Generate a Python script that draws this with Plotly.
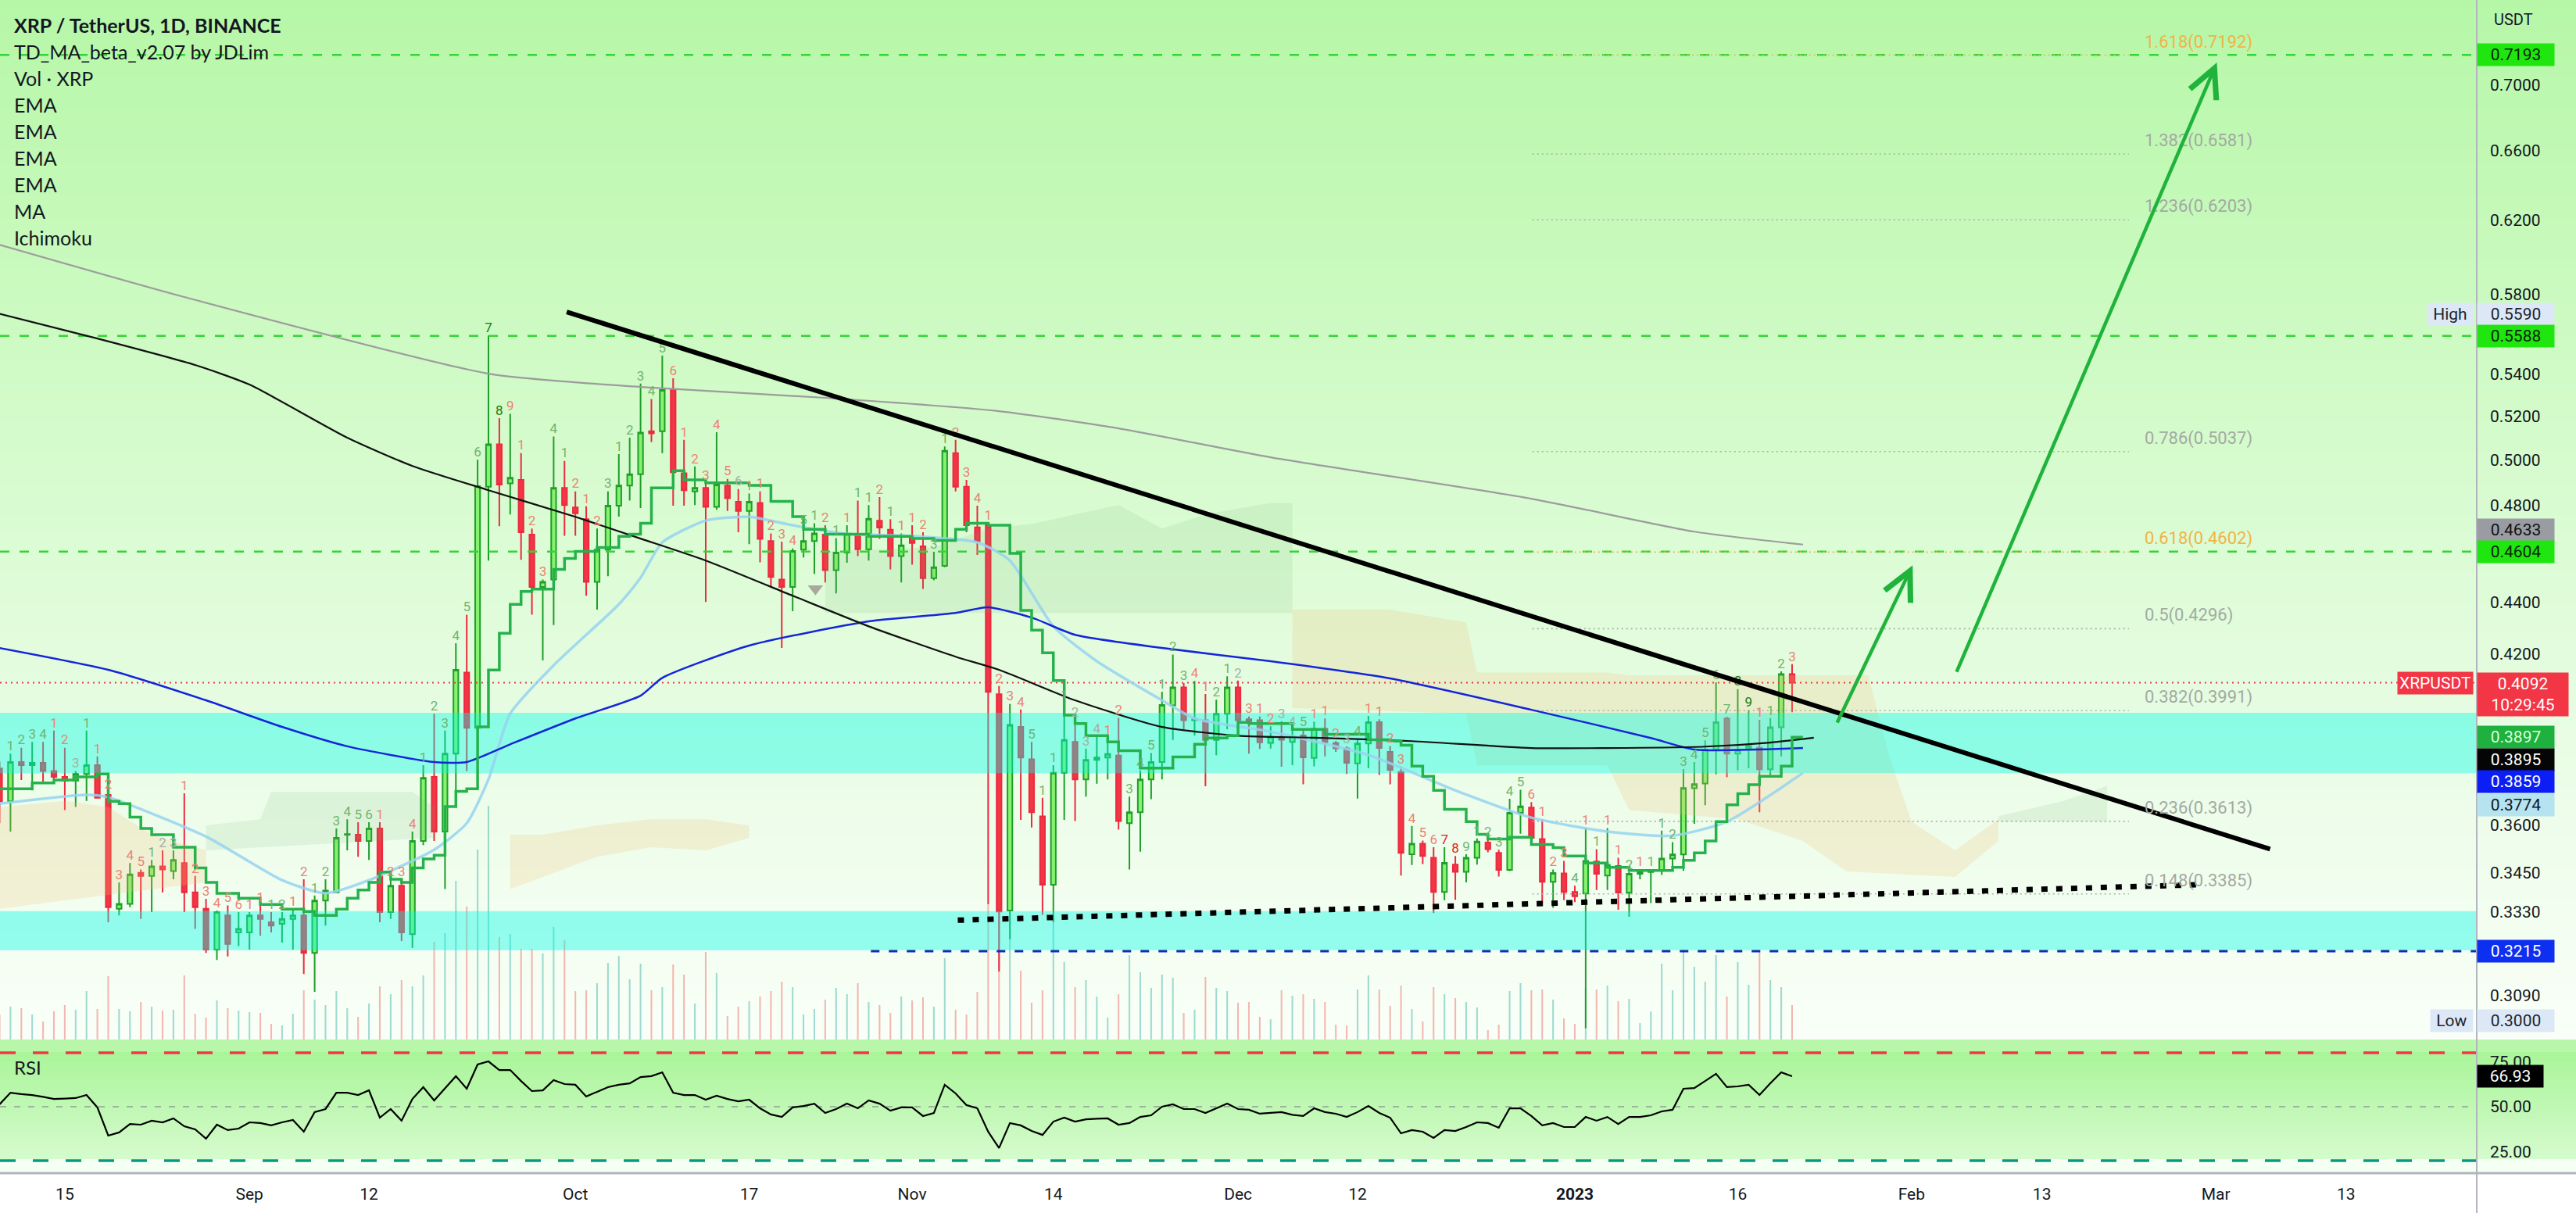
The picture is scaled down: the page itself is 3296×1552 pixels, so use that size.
import math
import pandas as pd
import plotly.graph_objects as go

# ---------------------------------------------------------------- data
BASE = pd.Timestamp("2022-08-09")

opens = [.3789,.3679,.3811,.3800,.3808,.3780,.3760,.3748,.3770,.3800,
         .3700,.3340,.3355,.3450,.3440,.3470,.3455,.3480,.3390,.3340,
         .3220,.3320,.3270,.3270,.3320,.3300,.3295,.3310,.3320,.3210,
         .3365,.3390,.3570,.3570,.3550,.3590,.3330,.3410,.3265,.3550,
         .3760,.3580,.3840,.4130,.3930,.4880,.5070,.4895,.4910,.4675,
         .4460,.4490,.4875,.4790,.4740,.4480,.4612,.4798,.4885,.4935,
         .5130,.5130,.5323,.4940,.4860,.4875,.4793,.4885,.4815,.4775,
         .4810,.4648,.4490,.4460,.4612,.4648,.4675,.4528,.4600,.4677,
         .4614,.4733,.4695,.4585,.4660,.4626,.4495,.4545,.5030,.4880,
         .4705,.4714,.4050,.3335,.3933,.3820,.3629,.3413,.3774,.3880,
         .3752,.3818,.3826,.3833,.3607,.3643,.3752,.3811,.4010,.4075,
         .3957,.3957,.3887,.3980,.4075,.3960,.3957,.3877,.3898,.3880,
         .3903,.3825,.3926,.3876,.3858,.3806,.3875,.3950,.3846,.3777,
         .3508,.3541,.3497,.3391,.3475,.3453,.3497,.3545,.3512,.3459,
         .3641,.3658,.3556,.3422,.3448,.3391,.3386,.3485,.3441,.3471,
         .3389,.3447,.3452,.3458,.3494,.3507,.3722,.3738,.3853,.3963,
         .3840,.3857,.3860,.3786,.3932,.4124]
highs = [.3812,.3840,.3860,.3880,.3880,.3920,.3860,.3780,.3920,.3830,
         .3710,.3420,.3480,.3460,.3490,.3520,.3520,.3705,.3440,.3370,
         .3335,.3350,.3330,.3330,.3350,.3330,.3330,.3340,.3430,.3380,
         .3430,.3590,.3620,.3610,.3610,.3610,.3430,.3430,.3580,.3800,
         .3980,.3920,.4240,.4350,.5000,.5590,.5190,.5210,.5030,.4700,
         .4490,.5105,.4995,.4860,.4795,.4700,.4860,.5025,.5100,.5354,
         .5280,.5490,.5380,.5090,.4970,.4895,.5125,.4915,.4870,.4850,
         .4860,.4680,.4645,.4617,.4704,.4723,.4714,.4660,.4714,.4820,
         .4800,.4835,.4740,.4680,.4714,.4685,.4603,.5060,.5090,.4910,
         .4798,.4723,.4080,.4015,.3995,.3880,.3690,.3800,.4020,.3957,
         .3857,.3900,.3894,.3965,.3694,.3782,.3842,.4059,.4197,.4091,
         .4099,.4051,.4030,.4116,.4100,.3970,.3970,.3935,.3953,.3924,
         .3923,.3952,.3963,.3884,.3865,.3890,.3972,.3960,.3866,.3795,
         .3598,.3551,.3530,.3530,.3502,.3508,.3558,.3555,.3522,.3687,
         .3717,.3676,.3619,.3460,.3487,.3410,.3591,.3524,.3591,.3497,
         .3452,.3460,.3460,.3583,.3546,.3787,.3811,.3886,.4094,.3969,
         .4069,.3993,.3958,.3964,.4134,.4161]
lows = [.3607,.3580,.3750,.3715,.3740,.3740,.3650,.3660,.3680,.3690,
        .3300,.3320,.3345,.3310,.3330,.3390,.3430,.3330,.3280,.3210,
        .3190,.3200,.3230,.3220,.3260,.3270,.3240,.3220,.3150,.3100,
        .3290,.3390,.3520,.3500,.3490,.3300,.3310,.3245,.3225,.3537,
        .3550,.3400,.3710,.3780,.3880,.4567,.4710,.4760,.4570,.4350,
        .4175,.4310,.4670,.4670,.4425,.4370,.4503,.4751,.4820,.4788,
        .5080,.5030,.4798,.4798,.4800,.4400,.4780,.4775,.4685,.4635,
        .4560,.4460,.4222,.4364,.4580,.4513,.4478,.4434,.4558,.4585,
        .4567,.4657,.4531,.4478,.4550,.4452,.4487,.4540,.4860,.4685,
        .4590,.3353,.3157,.3250,.3618,.3593,.3322,.3300,.3618,.3614,
        .3694,.3737,.3752,.3586,.3460,.3516,.3686,.3752,.3887,.3925,
        .3902,.3729,.3834,.3925,.3902,.3840,.3856,.3857,.3795,.3800,
        .3735,.3796,.3830,.3846,.3770,.3688,.3790,.3767,.3735,.3441,
        .3474,.3477,.3327,.3366,.3367,.3420,.3475,.3514,.3438,.3455,
        .3573,.3545,.3358,.3343,.3366,.3360,.3000,.3397,.3397,.3337,
        .3316,.3430,.3357,.3443,.3456,.3456,.3605,.3666,.3769,.3759,
        .3783,.3790,.3643,.3766,.3830,.3985]
closes = [.3679,.3811,.3800,.3808,.3780,.3760,.3748,.3770,.3800,.3690,
          .3345,.3355,.3445,.3440,.3470,.3460,.3490,.3390,.3345,.3220,
          .3330,.3236,.3280,.3320,.3310,.3290,.3310,.3320,.3210,.3365,
          .3395,.3560,.3572,.3550,.3590,.3330,.3410,.3270,.3550,.3757,
          .3580,.3840,.4140,.3930,.4883,.5070,.4890,.4920,.4685,.4460,
          .4480,.4875,.4800,.4765,.4480,.4612,.4798,.4885,.4935,.5123,
          .5120,.5323,.4944,.4865,.4875,.4793,.4890,.4830,.4775,.4815,
          .4657,.4500,.4460,.4606,.4648,.4680,.4528,.4600,.4677,.4614,
          .4742,.4704,.4585,.4630,.4640,.4495,.4540,.5040,.4880,.4714,
          .4648,.4059,.3332,.3940,.3826,.3643,.3413,.3774,.3887,.3752,
          .3818,.3826,.3838,.3614,.3643,.3752,.3811,.4011,.4075,.3957,
          .3960,.3887,.3980,.4075,.3957,.3952,.3879,.3898,.3888,.3900,
          .3827,.3926,.3879,.3858,.3808,.3875,.3950,.3859,.3784,.3512,
          .3541,.3502,.3391,.3481,.3453,.3497,.3548,.3524,.3459,.3641,
          .3662,.3560,.3422,.3449,.3391,.3378,.3487,.3447,.3474,.3389,
          .3447,.3452,.3458,.3494,.3507,.3723,.3736,.3853,.3950,.3840,
          .3852,.3866,.3786,.3932,.4124,.4092]
volumes_m = [320,420,400,320,230,360,440,380,620,390,
             810,390,360,480,420,370,380,820,330,280,
             500,400,370,350,340,200,180,330,630,510,
             440,620,400,290,460,680,580,760,680,820,
             1250,1360,2030,1700,2430,2990,1310,1350,1160,1160,
             1100,1440,1270,620,630,720,980,1070,770,970,
             630,670,960,830,460,1120,850,300,420,490,
             550,620,740,670,320,390,510,660,580,720,
             480,440,340,550,500,540,420,1040,380,320,
             610,1720,1630,1650,880,470,630,1500,990,670,
             760,550,280,580,1080,860,660,830,790,340,
             380,800,660,620,470,480,290,260,630,560,
             580,520,480,190,180,640,820,640,430,690,
             390,230,670,580,530,480,410,120,190,620,
             720,630,640,510,270,200,660,640,690,490,
             520,210,360,970,630,1150,930,740,1080,550,
             990,700,1130,760,670,440]
rsi = [51.3,57.8,57.0,56.5,55.5,54.3,54.5,54.8,56.5,49.6,
       33.9,35.7,40.4,40.0,42.2,41.3,43.5,39.1,37.4,32.2,
       40.0,37.0,37.8,41.3,40.9,39.6,41.3,42.6,36.1,47.0,
       48.7,57.8,57.8,56.5,59.1,43.9,48.7,42.2,54.3,60.9,
       53.5,60.4,67.0,60.0,73.5,75.2,70.4,70.4,64.3,58.7,
       59.1,64.8,62.6,62.2,55.7,58.3,60.9,62.2,63.0,66.5,
       67.0,69.1,57.8,56.5,56.5,53.9,56.1,54.3,53.0,53.9,
       49.1,45.7,44.3,49.6,50.4,51.7,46.5,48.7,51.7,49.1,
       53.5,51.7,47.8,49.6,49.6,44.8,46.5,62.2,57.4,50.9,
       49.1,36.1,27.0,40.9,39.6,36.5,34.3,41.7,43.9,41.7,
       43.0,43.3,43.5,40.0,40.9,44.3,45.2,50.0,51.3,48.7,
       48.7,46.5,49.1,51.7,48.7,48.3,46.1,46.5,47.0,45.5,
       44.8,49.1,47.0,46.1,44.3,47.0,50.4,46.5,43.9,35.2,
       37.0,36.1,32.6,37.0,36.5,38.7,41.3,40.9,38.3,49.1,
       49.1,44.8,39.6,40.9,38.7,38.7,44.3,42.2,44.3,40.4,
       44.3,44.3,45.2,47.4,48.3,60.0,60.4,64.3,68.3,60.9,
       61.3,62.2,56.5,63.0,69.1,66.93]

# TD sequential counts printed above each candle, and their colour class
td_counts = ["1","1","2","3","4","1","2","3","1","1",
             "2","3","4","5","1","2","3","1","2","3",
             "4","5","6","1","1","1","2","1","2","1",
             "2","3","4","5","6","1","2","3","4","1",
             "2","3","4","5","6","7","8","9","1","2",
             "3","4","1","2","1","2","3","1","2","3",
             "4","5","6","1","2","3","4","5","6","1",
             "1","2","3","4","5","1","2","1","1","1",
             "1","2","1","1","1","2","3","1","2","3",
             "4","1","2","3","4","5","1","1","1","2",
             "3","4","1","2","3","4","5","1","2","3",
             "4","1","2","1","2","3","1","2","3","4",
             "5","1","1","2","3","4","1","1","2","3",
             "4","5","6","7","8","9","1","2","3","4",
             "5","6","1","2","3","4","1","1","1","1",
             "2","1","1","1","2","3","4","5","6","7",
             "8","9","1","1","2","3"]
td_kind = ("ggggg" "rrngr" "rrrrg" "nnrrr" "rrrrr" "ggrrg" "gggggr" "rrrggg" "gggGG" "rrrr"
           "ggrrr" "ggggg" "grrrr" "rrnrr" "rrrgg" "rgrgg" "rgrrr" "ggrrr" "rrrrg" "gggnn"
           "nrrgg" "ggggr" "rggnr" "rrnng" "rrrng" "rrrrr" "rrRRg" "ggggg" "rrrrg" "rgrrg"
           "rgggg" "ggggG" "Grggr")

# small bearish marker printed by the TD script
marker_day, marker_price = 75.1, 0.4453

# moving averages (day offset from BASE, price)
ma_days = [0,9,18,23,32,38,45,53,59,65,73,80,88,92,99,107,114,121,130,141,148,157,163,167]
ma_vals = [.570,.5575,.5444,.5349,.510,.4972,.4865,.475,.4658,.4567,.4425,.4305,.4189,.414,
           .4028,.3933,.3902,.3895,.3883,.3859,.3859,.3864,.3878,.3895]
ema_grey_days = [0,17,45,59,76,92,103,117,141,156,166]
ema_grey_vals = [.6065,.5787,.5402,.5338,.5286,.5223,.5143,.5011,.4828,.4687,.4633]
ema_blue_days = [0,10,19,26,32,40,43,47,53,59,61,69,80,88,91,95,99,107,117,128,141,152,156,166]
ema_blue_vals = [.4222,.414,.4028,.3933,.3865,.3811,.3811,.3872,.3963,.4045,.4110,.4231,.4324,
                 .4357,.4379,.4339,.4272,.4222,.4172,.4108,.3994,.3894,.3854,.3859]
ema_light_days = [0,8,10,19,26,30,34,40,43,45,47,51,57,59,61,65,69,73,78,84,90,93,97,101,107,
                  110,117,126,134,141,148,154,159,166]
ema_light_vals = [.3671,.3700,.3692,.3564,.3427,.3387,.3427,.3522,.3607,.3752,.3980,.4157,.4391,
                  .4497,.4642,.4734,.4750,.4714,.4678,.4668,.4642,.4567,.4305,.4172,.4028,.3963,
                  .3916,.3835,.3715,.3625,.3580,.3567,.3612,.3774]
step_days = [0,3,5,7,9,10,11,12,13,14,16,18,19,20,22,24,26,28,29,31,32,33,34,35,36,37,38,39,40,
             41,42,43,44,45,46,47,48,49,51,52,53,55,57,58,59,60,62,63,65,69,71,73,74,76,80,84,
             86,88,89,91,93,94,95,96,97,98,99,100,102,103,105,107,108,110,111,113,114,115,119,
             122,126,128,129,130,131,132,133,135,136,137,139,141,143,144,146,148,150,152,154,
             155,156,157,158,159,160,161,162,164,165,166]
step_vals = [.372,.374,.375,.376,.377,.3679,.3671,.3627,.359,.357,.353,.3465,.342,.3387,.3372,
             .3353,.3339,.3332,.332,.3339,.3372,.3397,.342,.3452,.343,.342,.3465,.3493,.3505,
             .3661,.3712,.372,.3933,.4139,.4278,.4391,.4442,.4451,.4531,.4576,.4605,.4621,.4667,
             .4676,.4723,.4875,.4951,.4910,.4897,.4886,.4816,.4751,.4697,.4676,.4667,.4658,.4650,
             .4697,.4723,.4714,.4597,.4367,.4290,.4204,.4100,.3975,.3945,.3902,.3880,.3850,.3790,
             .3790,.3828,.3872,.3894,.3902,.3949,.3945,.3924,.3907,.3888,.3883,.3869,.3797,.3762,
             .3715,.3652,.3612,.3571,.3556,.3562,.3539,.3529,.3502,.3480,.3467,.3457,.3457,.3467,
             .3489,.3512,.3550,.3612,.3667,.3704,.3734,.3762,.3797,.3897,.3897]

# ichimoku cloud outlines (day offset, upper) / (day offset, lower)
clouds = [
    ("beige", [0,6,10,14,19], [.366,.368,.366,.357,.352], [0,19], [.334,.342]),
    ("green", [19,24,25,38,40], [.360,.362,.371,.371,.366], [19,40], [.352,.356]),
    ("beige", [47,50,55,60,65,69], [.357,.357,.360,.362,.362,.360], [47,55,60,65,69], [.340,.350,.353,.352,.356]),
    ("green", [76,86,91,95,99,103,107,111,117,119], [.4605,.4622,.4700,.4720,.4760,.4800,.4700,.4760,.4810,.4810], [76,119], [.4357,.4357]),
    ("beige", [119,128,135,136,148,150,172,174,176,180,184], [.437,.437,.432,.413,.413,.412,.412,.3825,.3612,.352,.362],
              [119,135,136,148,150,160,166,170,180,184], [.400,.398,.380,.380,.365,.362,.355,.3454,.3437,.355]),
    ("green", [184,190,194], [.3630,.3680,.3730], [184,194], [.3612,.3612]),
]

h_green_levels = [0.7193, 0.5588, 0.4604]
support_level = 0.3215
support_start_day = 80.2
band_upper = (0.3773, 0.3983)
band_lower = (0.3218, 0.3333)
last_price = 0.4092

fib_ratios = ["1.618", "1.382", "1.236", "0.786", "0.618", "0.5", "0.382", "0.236", "0.148"]
fib_prices = [0.7192, 0.6581, 0.6203, 0.5037, 0.4602, 0.4296, 0.3991, 0.3613, 0.3385]
fib_start_day, fib_end_day, fib_label_day = 141.1, 196.0, 197.3

trend_days, trend_vals = [52.2, 209.0], [0.5710, 0.3524]
dotted_days, dotted_vals = [88.2, 202.4], [0.3306, 0.3413]
arrows = [((169.1, 0.3944), (176.1, 0.4548)), ((180.1, 0.4128), (204.1, 0.7144))]

price_ticks = [0.7000, 0.6600, 0.6200, 0.5800, 0.5400, 0.5200, 0.5000, 0.4800, 0.4400,
               0.4200, 0.3600, 0.3450, 0.3330, 0.3090]
date_ticks = ["2022-08-15", "2022-09-01", "2022-09-12", "2022-10-01", "2022-10-17", "2022-11-01",
              "2022-11-14", "2022-12-01", "2022-12-12", "2023-01-01", "2023-01-16", "2023-02-01",
              "2023-02-13", "2023-03-01", "2023-03-13"]
date_labels = ["15", "Sep", "12", "Oct", "17", "Nov", "14", "Dec", "12", "<b>2023</b>", "16", "Feb",
               "13", "Mar", "13"]

legend_lines = ["<b>XRP / TetherUS, 1D, BINANCE</b>", "TD_MA_beta_v2.07 by JDLim", "Vol · XRP",
                "EMA", "EMA", "EMA", "EMA", "MA", "Ichimoku"]

# ---------------------------------------------------------------- helpers
W, H = 3296, 1552
PLOT_H = 1501
PRICE_BOTTOM = 1330
PR0 = (PLOT_H - PRICE_BOTTOM) / PLOT_H
X_RANGE = ["2022-08-09 00:52", "2023-03-25 00:35"]
Y_RANGE = [math.log10(0.2970), math.log10(0.7557)]
RSI_RANGE = [13.04, 87.39]
AXIS_FONT = "Roboto"
TXT = "#131722"


def d(offs):
    return [BASE + pd.Timedelta(days=float(o)) for o in offs]


dates = pd.date_range(BASE, periods=len(opens), freq="D")
fig = go.Figure()

# volume (base axis, drawn below everything)
vol_colors = ["rgba(38,166,154,0.42)" if c >= o else "rgba(239,83,80,0.42)" for o, c in zip(opens, closes)]
fig.add_trace(go.Bar(x=dates, y=volumes_m, marker_color=vol_colors, marker_line_width=0,
                     width=0.15 * 86400000, xaxis="x", yaxis="y", showlegend=False, hoverinfo="skip"))


def hline(price, color, width, dash, x0=None, x1=None):
    xs = [x0 if x0 is not None else X_RANGE[0], x1 if x1 is not None else X_RANGE[1]]
    fig.add_trace(go.Scatter(x=xs, y=[price, price], mode="lines", xaxis="x", yaxis="y3",
                             line=dict(color=color, width=width, dash=dash),
                             showlegend=False, hoverinfo="skip"))


def band(lo, hi, color):
    fig.add_trace(go.Scatter(x=[X_RANGE[0], X_RANGE[1], X_RANGE[1], X_RANGE[0]], y=[lo, lo, hi, hi],
                             mode="lines", fill="toself", fillcolor=color, line=dict(width=0),
                             xaxis="x", yaxis="y3", showlegend=False, hoverinfo="skip"))


# ichimoku clouds
for kind, ud, uv, ld, lv in clouds:
    col = "rgba(240,190,120,0.22)" if kind == "beige" else "rgba(110,175,110,0.13)"
    xs = d(ud) + d(ld[::-1])
    ys = uv + lv[::-1]
    fig.add_trace(go.Scatter(x=xs, y=ys, mode="lines", fill="toself", fillcolor=col,
                             line=dict(width=0), xaxis="x", yaxis="y3", showlegend=False, hoverinfo="skip"))

band(*band_upper, "rgba(0,250,230,0.40)")
band(*band_lower, "rgba(0,250,230,0.40)")

for lv in h_green_levels:
    hline(lv, "#35d435", 2.5, "12px,13px")
hline(support_level, "#0d2fb5", 3, "11px,12px", x0=d([support_start_day])[0])
hline(last_price, "#e53945", 2, "2px,5px")

# fibonacci levels
for r, p in zip(fib_ratios, fib_prices):
    col = "#e9b45a" if r in ("1.618", "0.618") else "#a9b1a9"
    fig.add_trace(go.Scatter(x=d([fib_start_day, fib_end_day]), y=[p, p], mode="lines",
                             line=dict(color=col, width=1.6, dash="2px,4px"), xaxis="x", yaxis="y3",
                             showlegend=False, hoverinfo="skip"))


# moving averages
def line(days, vals, color, width, shape="spline"):
    ln = dict(color=color, width=width, shape=shape)
    if shape == "spline":
        ln["smoothing"] = 0.6
    fig.add_trace(go.Scatter(x=d(days), y=vals, mode="lines", xaxis="x", yaxis="y3", line=ln,
                             showlegend=False, hoverinfo="skip"))


line(ema_grey_days, ema_grey_vals, "#9c9c9c", 2.2)
line(ema_light_days, ema_light_vals, "rgba(150,210,240,0.85)", 3.5)
line(ema_blue_days, ema_blue_vals, "#1426d8", 2.5)
line(ma_days, ma_vals, "#111111", 2.2)
line(step_days, step_vals, "#25b24c", 3.5, shape="hv")

# candles
fig.add_trace(go.Candlestick(
    x=dates, open=opens, high=highs, low=lows, close=closes, xaxis="x", yaxis="y3",
    increasing=dict(line=dict(color="#1f9e2a", width=2), fillcolor="#86f26f"),
    decreasing=dict(line=dict(color="#ec2a40", width=2), fillcolor="#f23645"),
    whiskerwidth=0, showlegend=False, hoverinfo="skip"))

# TD sequential counts
td_palette = {"g": "#6fb46f", "r": "#ea8374", "n": "#a2b3a2", "G": "#137a13", "R": "#e0202a"}
fig.add_trace(go.Scatter(x=dates, y=highs, mode="text", text=td_counts, textposition="top center",
                         textfont=dict(family=AXIS_FONT, size=17,
                                       color=[td_palette[k] for k in td_kind[:len(td_counts)]]),
                         xaxis="x", yaxis="y3", showlegend=False, hoverinfo="skip", cliponaxis=False))
fig.add_trace(go.Scatter(x=d([marker_day]), y=[marker_price], mode="markers",
                         marker=dict(symbol="triangle-down", size=17, color="rgba(150,140,140,0.75)"),
                         xaxis="x", yaxis="y3", showlegend=False, hoverinfo="skip"))

# trendlines
fig.add_trace(go.Scatter(x=d(trend_days), y=trend_vals, mode="lines", xaxis="x", yaxis="y3",
                         line=dict(color="#000000", width=6), showlegend=False, hoverinfo="skip"))
fig.add_trace(go.Scatter(x=d(dotted_days), y=dotted_vals, mode="lines", xaxis="x", yaxis="y3",
                         line=dict(color="#000000", width=7, dash="8px,11px"), showlegend=False,
                         hoverinfo="skip"))

# RSI pane
for lvl, col, wdt, dash in [(80, "#f23645", 3.5, "20px,22px"), (20, "#089981", 3.5, "20px,22px"),
                            (50, "#9bb59b", 2, "8px,10px")]:
    fig.add_trace(go.Scatter(x=X_RANGE, y=[lvl, lvl], mode="lines", xaxis="x2", yaxis="y2",
                             line=dict(color=col, width=wdt, dash=dash), showlegend=False, hoverinfo="skip"))
fig.add_trace(go.Scatter(x=dates, y=rsi, mode="lines", xaxis="x2", yaxis="y2",
                         line=dict(color="#000000", width=2.2), showlegend=False, hoverinfo="skip"))

# ---------------------------------------------------------------- background gradient
shapes = []


def lerp(stops, t):
    for (t0, c0), (t1, c1) in zip(stops[:-1], stops[1:]):
        if t <= t1:
            f = 0 if t1 == t0 else (t - t0) / (t1 - t0)
            return "rgb(%d,%d,%d)" % tuple(round(a + (b - a) * f) for a, b in zip(c0, c1))
    return "rgb(%d,%d,%d)" % stops[-1][1]


def strip(y0px, y1px, color):
    shapes.append(dict(type="rect", xref="paper", yref="paper", x0=0, x1=W / (W - 127),
                       y0=(PLOT_H - y1px) / PLOT_H, y1=(PLOT_H - y0px) / PLOT_H,
                       fillcolor=color, line=dict(width=0), layer="below"))


price_stops = [(0, (182, 247, 167)), (0.4, (211, 251, 202)), (0.78, (237, 253, 234)), (1, (249, 255, 248))]
step = 10
for y in range(0, PRICE_BOTTOM, step):
    strip(y, min(y + step + 1, PRICE_BOTTOM), lerp(price_stops, (y + step / 2) / PRICE_BOTTOM))
strip(PRICE_BOTTOM, 1346, "rgb(184,247,170)")
rsi_stops = [(0, (170, 245, 154)), (1, (214, 251, 206))]
for y in range(1346, 1483, 6):
    strip(y, min(y + 7, 1483), lerp(rsi_stops, (y - 1346) / 137))
strip(1483, PLOT_H, "rgb(246,255,244)")

# frame lines
shapes.append(dict(type="line", xref="paper", yref="paper", x0=1, x1=1, y0=-51 / PLOT_H, y1=1,
                   line=dict(color="#b2b5be", width=2)))
shapes.append(dict(type="line", xref="paper", yref="paper", x0=0, x1=W / (W - 127), y0=0, y1=0,
                   line=dict(color="#b2b5be", width=3)))

# ---------------------------------------------------------------- annotations
ann = []
for i, t in enumerate(legend_lines):
    ann.append(dict(xref="paper", yref="paper", x=0, y=1, xanchor="left", yanchor="middle",
                    xshift=16, yshift=-(32 + i * 34.0), text=t, showarrow=False,
                    font=dict(family="Lato", size=25, color=TXT)))
ann.append(dict(xref="paper", yref="paper", x=0, y=PR0, xanchor="left", yanchor="middle",
                xshift=16, yshift=-35, text="RSI", showarrow=False, font=dict(family="Lato", size=24, color=TXT)))
ann.append(dict(xref="paper", yref="paper", x=1, y=1, xanchor="left", yanchor="middle", xshift=20,
                yshift=-25, text="USDT", showarrow=False, font=dict(family=AXIS_FONT, size=20, color=TXT)))

for r, p in zip(fib_ratios, fib_prices):
    col = "#efb449" if r in ("1.618", "0.618") else "#a3aaa3"
    ann.append(dict(x=d([fib_label_day])[0], y=math.log10(p), xref="x", yref="y3", xanchor="left",
                    yanchor="bottom", yshift=2, text="%s(%.4f)" % (r, p), showarrow=False,
                    font=dict(family=AXIS_FONT, size=22, color=col)))

for (td, tv), (hd, hv) in arrows:
    ann.append(dict(x=d([hd])[0], y=math.log10(hv), ax=d([td])[0], ay=math.log10(tv), xref="x", yref="y3",
                    axref="x", ayref="y3", text="", showarrow=True, arrowhead=5, arrowsize=1.6,
                    arrowwidth=4.5, arrowcolor="#1fb33c"))


def box(price, text, bg, fg, yshift=0, width=94, yref="y3"):
    yv = math.log10(price) if yref == "y3" else price
    ann.append(dict(xref="paper", yref=yref, x=1, y=yv, xanchor="left", yanchor="middle", xshift=0,
                    yshift=yshift, text=text, showarrow=False, bgcolor=bg, width=width, borderpad=2,
                    align="center", font=dict(family=AXIS_FONT, size=21, color=fg)))


def side_tag(price, text, bg, fg, yshift=0):
    ann.append(dict(xref="paper", yref="y3", x=1, y=math.log10(price), xanchor="right", yanchor="middle",
                    xshift=-4, yshift=yshift, text=text, showarrow=False, bgcolor=bg, borderpad=2,
                    font=dict(family=AXIS_FONT, size=21, color=fg)))


box(0.7193, "0.7193", "#1fe60f", "#0b240b")
box(0.5590, "0.5590", "#dde8f7", "#1c2430", yshift=27)
side_tag(0.5590, " High ", "#dde8f7", "#1c2430", yshift=27)
box(0.5588, "0.5588", "#1fe60f", "#0b240b")
box(0.4633, "0.4633", "#9a9ca3", "#111111", yshift=19)
box(0.4604, "0.4604", "#1fe60f", "#0b240b")
ann.append(dict(xref="paper", yref="y3", x=1, y=math.log10(last_price), xanchor="left", yanchor="top",
                yshift=14, text="0.4092<br>10:29:45", showarrow=False, bgcolor="#f23645", width=112,
                borderpad=2, align="center", font=dict(family=AXIS_FONT, size=21, color="#ffffff")))
side_tag(last_price, "XRPUSDT", "#f23645", "#ffffff")
box(0.3897, "0.3897", "#1fb13f", "#d8ffd8")
box(0.3895, "0.3895", "#050505", "#ffffff", yshift=-28)
box(0.3859, "0.3859", "#0a1ef5", "#ffffff", yshift=-43)
box(0.3774, "0.3774", "#b6e3f0", "#101820", yshift=-41)
box(0.3215, "0.3215", "#0d2ff0", "#ffffff")
box(0.3000, "0.3000", "#dde8f7", "#1c2430", yshift=10)
side_tag(0.3000, " Low ", "#dde8f7", "#1c2430", yshift=10)
box(66.93, "66.93", "#000000", "#ffffff", yref="y2", width=80)

# ---------------------------------------------------------------- layout
fig.update_layout(
    width=W, height=H, margin=dict(l=0, r=127, t=0, b=51),
    paper_bgcolor="#ffffff", plot_bgcolor="rgba(0,0,0,0)", showlegend=False,
    shapes=shapes, annotations=ann, boxgap=0.36,
    xaxis=dict(domain=[0, 1], anchor="y", range=X_RANGE, type="date", showticklabels=False,
               showgrid=False, zeroline=False, rangeslider=dict(visible=False), showline=False),
    xaxis2=dict(domain=[0, 1], anchor="y2", matches="x", range=X_RANGE, type="date", showgrid=False,
                zeroline=False, tickvals=date_ticks, ticktext=date_labels, ticks="",
                tickfont=dict(family=AXIS_FONT, size=21, color=TXT), ticklabelstandoff=12, showline=False),
    yaxis=dict(domain=[PR0, 1], range=[0, 13300], visible=False, fixedrange=True),
    yaxis3=dict(domain=[PR0, 1], overlaying="y", anchor="x", side="right", type="log", range=Y_RANGE,
                tickvals=price_ticks, ticktext=["%.4f" % v for v in price_ticks], showgrid=False,
                zeroline=False, ticks="", ticklabelstandoff=16,
                tickfont=dict(family=AXIS_FONT, size=21, color=TXT), showline=False),
    yaxis2=dict(domain=[0, PR0], anchor="x2", side="right", range=RSI_RANGE, tickvals=[25, 50, 75],
                ticktext=["25.00", "50.00", "75.00"], showgrid=False, zeroline=False, ticks="",
                ticklabelstandoff=16, tickfont=dict(family=AXIS_FONT, size=21, color=TXT), showline=False),
)

fig.write_html("out.html")
